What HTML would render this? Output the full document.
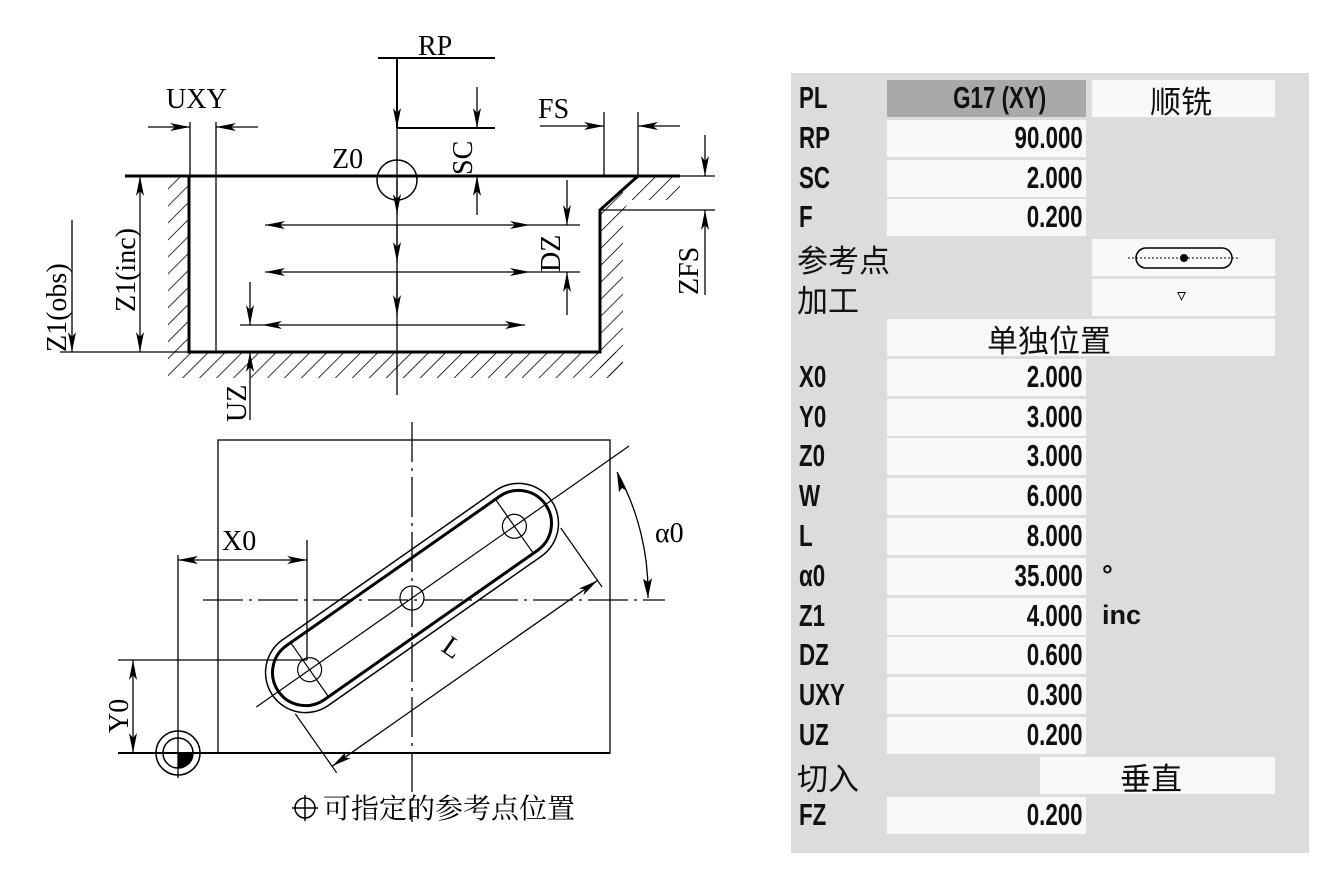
<!DOCTYPE html>
<html><head><meta charset="utf-8"><style>
body{margin:0;width:1341px;height:871px;background:#fff;overflow:hidden;position:relative}
svg{position:absolute;left:0;top:0}
#panel{position:absolute;left:791px;top:73px;width:518px;height:780px;background:#dcdcdc}
.r{position:absolute;left:0;width:518px;height:40px}
.lb{position:absolute;left:8px;top:0px;font:bold 31px "Liberation Sans",sans-serif;transform:scaleX(0.72);transform-origin:left;color:#111}
.cj{position:absolute;left:6px;top:-3px;font:31px "Liberation Sans","Noto Sans CJK SC",sans-serif;color:#111}
.v{position:absolute;left:96px;top:0;width:199px;height:37px;background:#f8f8f8}
.vt{position:absolute;right:3px;top:0px;font:bold 31px "Liberation Sans",sans-serif;transform:scaleX(0.72);transform-origin:right;color:#111;white-space:nowrap}
.w{position:absolute;background:#f8f8f8;height:37px}
.u{position:absolute;left:311px;top:2px;font:bold 27px "Liberation Sans",sans-serif;color:#111}
</style></head><body>
<svg width="1341" height="871" viewBox="0 0 1341 871" id="dg">
<defs>
<pattern id="h" width="12" height="12" patternUnits="userSpaceOnUse" patternTransform="rotate(45)"><line x1="0" y1="0" x2="0" y2="12" stroke="#000" stroke-width="1.6"/></pattern>
</defs>
<g fill="none" stroke="#000">
<rect x="168" y="176" width="21" height="176" fill="url(#h)" stroke="none"/>
<rect x="168" y="352" width="455" height="26" fill="url(#h)" stroke="none"/>
<rect x="600" y="176" width="23" height="200" fill="url(#h)" stroke="none"/>
<polygon points="638,176 680,176 680,200 623,200 623,214" fill="url(#h)" stroke="none"/>
<rect x="190" y="177" width="409" height="174" fill="#fff" stroke="none"/>
<polygon points="599,210 638,177 599,177" fill="#fff" stroke="none"/>
<path d="M125,176 H680" stroke-width="3"/>
<path d="M189,176 V352 H600 V210 L638,176" stroke-width="3"/>
<line x1="216" y1="122" x2="216" y2="352" stroke-width="1.3"/>
<line x1="190" y1="122" x2="190" y2="176" stroke-width="1.3"/>
<line class="e" x1="148" y1="127" x2="190" y2="127" stroke-width="1.3"/>
<line class="e" x1="258" y1="127" x2="216" y2="127" stroke-width="1.3"/>
<line x1="378" y1="58" x2="495" y2="58" stroke-width="2"/>
<line class="e" x1="397" y1="58" x2="397" y2="128" stroke-width="2"/>
<line x1="397" y1="128" x2="495" y2="128" stroke-width="2"/>
<line x1="397" y1="128" x2="397" y2="395" stroke-width="1.3"/>
<circle cx="397" cy="180" r="20" stroke-width="1.5"/>
<line class="e" x1="397" y1="180" x2="397" y2="214" stroke-width="1.3"/>
<line class="e" x1="397" y1="225" x2="397" y2="262" stroke-width="1.3"/>
<line class="e" x1="397" y1="272" x2="397" y2="315" stroke-width="1.3"/>
<line class="e" x1="477" y1="87" x2="477" y2="128" stroke-width="1.3"/>
<line class="e" x1="477" y1="215" x2="477" y2="176" stroke-width="1.3"/>
<line class="b" x1="265" y1="225" x2="530" y2="225" stroke-width="1.3"/>
<line x1="530" y1="225" x2="580" y2="225" stroke-width="1.3"/>
<line class="b" x1="265" y1="272" x2="530" y2="272" stroke-width="1.3"/>
<line x1="530" y1="272" x2="580" y2="272" stroke-width="1.3"/>
<line x1="240" y1="325" x2="262" y2="325" stroke-width="1.3"/>
<line class="b" x1="262" y1="325" x2="525" y2="325" stroke-width="1.3"/>
<line class="e" x1="567" y1="180" x2="567" y2="225" stroke-width="1.3"/>
<line class="e" x1="567" y1="315" x2="567" y2="272" stroke-width="1.3"/>
<line x1="604" y1="112" x2="604" y2="176" stroke-width="1.3"/>
<line x1="638" y1="112" x2="638" y2="176" stroke-width="1.3"/>
<line class="e" x1="540" y1="126" x2="604" y2="126" stroke-width="1.3"/>
<line class="e" x1="680" y1="126" x2="638" y2="126" stroke-width="1.3"/>
<line x1="680" y1="176" x2="715" y2="176" stroke-width="1.3"/>
<line x1="600" y1="210" x2="715" y2="210" stroke-width="1.3"/>
<line class="e" x1="705" y1="135" x2="705" y2="176" stroke-width="1.3"/>
<line class="e" x1="705" y1="295" x2="705" y2="210" stroke-width="1.3"/>
<line class="e" x1="250" y1="282" x2="250" y2="325" stroke-width="1.3"/>
<line class="e" x1="250" y1="420" x2="250" y2="352" stroke-width="1.3"/>
<line x1="60" y1="352" x2="189" y2="352" stroke-width="1.3"/>
<line class="b" x1="140" y1="176" x2="140" y2="352" stroke-width="1.3"/>
<line class="e" x1="72" y1="220" x2="72" y2="352" stroke-width="1.3"/>

<rect x="218" y="440" width="392" height="313" stroke-width="1.3"/>
<line x1="118" y1="753" x2="610" y2="753" stroke-width="2"/>
<line x1="412" y1="422" x2="412" y2="822" stroke-width="1.3" stroke-dasharray="40,6,3,6"/>
<line x1="203" y1="600" x2="665" y2="600" stroke-width="1.3" stroke-dasharray="40,6,3,6"/>
<g transform="translate(412,598) rotate(-35)">
<rect x="-170" y="-40" width="340" height="80" rx="40" stroke-width="1.5"/>
<rect x="-163" y="-33" width="326" height="66" rx="33" stroke-width="3"/>
<line x1="-190" y1="0" x2="265" y2="0" stroke-width="1.2"/>
<line x1="-125" y1="-33" x2="-125" y2="33" stroke-width="1.2"/>
<line x1="125" y1="-33" x2="125" y2="33" stroke-width="1.2"/>
<line x1="-162" y1="28" x2="-162" y2="100" stroke-width="1.2"/>
<line x1="162" y1="28" x2="162" y2="100" stroke-width="1.2"/>
<line class="b" x1="-162" y1="92" x2="162" y2="92" stroke-width="1.3"/>
<circle cx="-125" cy="0" r="12" stroke-width="1.2"/>
<circle cx="0" cy="0" r="12" stroke-width="1.2"/>
<circle cx="125" cy="0" r="12" stroke-width="1.2"/>
</g>
<line x1="307" y1="540" x2="307" y2="660" stroke-width="1.3"/>
<line x1="178" y1="555" x2="178" y2="778" stroke-width="1.3"/>
<line class="b" x1="178" y1="560" x2="307" y2="560" stroke-width="1.3"/>
<line x1="118" y1="660" x2="307" y2="660" stroke-width="1.3"/>
<line class="b" x1="133" y1="660" x2="133" y2="753" stroke-width="1.3"/>
<path d="M617,472 A250,250 0 0 1 648,598" stroke-width="1.3"/>
<polygon points="617,472 619,492 622,488 627,491" fill="#000" stroke="none"/>
<polygon points="648,598 643,579 648,582 652,578" fill="#000" stroke="none"/>
<circle cx="178" cy="753" r="22" stroke-width="1.5"/>
<circle cx="178" cy="753" r="15" stroke-width="1.5"/>
<path d="M178,753 H193 A15,15 0 0 1 178,768Z" fill="#000"/>
<circle cx="305" cy="808" r="10" stroke-width="1.5"/>
<line x1="292" y1="808" x2="318" y2="808" stroke-width="1.5"/>
<line x1="305" y1="795" x2="305" y2="821" stroke-width="1.5"/>
</g>
<g font-family="Liberation Serif,serif" font-size="28" fill="#000">
<text x="418" y="55">RP</text>
<text x="166" y="108">UXY</text>
<text x="332" y="168">Z0</text>
<text x="538" y="118">FS</text>
<text transform="translate(472,175) rotate(-90)">SC</text>
<text transform="translate(560,272) rotate(-90)">DZ</text>
<text transform="translate(698,295) rotate(-90)">ZFS</text>
<text transform="translate(246,422) rotate(-90)">UZ</text>
<text transform="translate(135,312) rotate(-90)">Z1(inc)</text>
<text transform="translate(66,352) rotate(-90)">Z1(obs)</text>
<text x="222" y="550">X0</text>
<text x="655" y="542">α0</text>
<text transform="translate(128,733) rotate(-90)">Y0</text>
<text transform="translate(440,650) rotate(35)">L</text>
</g>
<text x="323" y="818" font-family="Liberation Serif,'Noto Serif CJK SC',serif" font-size="28" fill="#000">可指定的参考点位置</text>
</svg>
<div id="panel">
<div class="r" style="top:7px"><span class="lb">PL</span><div class="v" style="background:#a9a9a9"><span class="vt" style="right:40px">G17 (XY)</span></div><div class="w" style="left:301px;width:183px"><span class="cj" style="left:58px">顺铣</span></div></div>
<div class="r" style="top:47px"><span class="lb">RP</span><div class="v"><span class="vt">90.000</span></div></div>
<div class="r" style="top:87px"><span class="lb">SC</span><div class="v"><span class="vt">2.000</span></div></div>
<div class="r" style="top:126px"><span class="lb">F</span><div class="v"><span class="vt">0.200</span></div></div>
<div class="r" style="top:166px"><span class="cj">参考点</span><div class="w" style="left:301px;width:183px"><svg width="183" height="37" style="position:absolute"><rect x="44" y="9" width="96" height="20" rx="10" fill="none" stroke="#000" stroke-width="1.5"/><line x1="36" y1="19" x2="148" y2="19" stroke="#000" stroke-dasharray="2,2"/><circle cx="92" cy="19" r="4" fill="#000"/></svg></div></div>
<div class="r" style="top:206px"><span class="cj">加工</span><div class="w" style="left:301px;width:183px"><span style="position:absolute;left:85px;top:6px;font:18px 'DejaVu Sans',sans-serif">▿</span></div></div>
<div class="r" style="top:246px"><div class="w" style="left:96px;width:388px"><span class="cj" style="left:100px">单独位置</span></div></div>
<div class="r" style="top:286px"><span class="lb">X0</span><div class="v"><span class="vt">2.000</span></div></div>
<div class="r" style="top:326px"><span class="lb">Y0</span><div class="v"><span class="vt">3.000</span></div></div>
<div class="r" style="top:365px"><span class="lb">Z0</span><div class="v"><span class="vt">3.000</span></div></div>
<div class="r" style="top:405px"><span class="lb">W</span><div class="v"><span class="vt">6.000</span></div></div>
<div class="r" style="top:445px"><span class="lb">L</span><div class="v"><span class="vt">8.000</span></div></div>
<div class="r" style="top:485px"><span class="lb">α0</span><div class="v"><span class="vt">35.000</span></div><span class="u">°</span></div>
<div class="r" style="top:525px"><span class="lb">Z1</span><div class="v"><span class="vt">4.000</span></div><span class="u">inc</span></div>
<div class="r" style="top:564px"><span class="lb">DZ</span><div class="v"><span class="vt">0.600</span></div></div>
<div class="r" style="top:604px"><span class="lb">UXY</span><div class="v"><span class="vt">0.300</span></div></div>
<div class="r" style="top:644px"><span class="lb">UZ</span><div class="v"><span class="vt">0.200</span></div></div>
<div class="r" style="top:684px"><span class="cj">切入</span><div class="w" style="left:249px;width:235px"><span class="cj" style="left:80px">垂直</span></div></div>
<div class="r" style="top:724px"><span class="lb">FZ</span><div class="v"><span class="vt">0.200</span></div></div>
</div>
<script>
(function(){
var NS="http://www.w3.org/2000/svg";
function head(p,x,y,dx,dy){var L=Math.hypot(dx,dy);dx/=L;dy/=L;var nx=-dy,ny=dx;
var bx=x-dx*20,by=y-dy*20,mx=x-dx*15,my=y-dy*15;
var g=document.createElementNS(NS,"polygon");
g.setAttribute("points",x+","+y+" "+(bx+nx*4)+","+(by+ny*4)+" "+mx+","+my+" "+(bx-nx*4)+","+(by-ny*4));
g.setAttribute("fill","#000");g.setAttribute("stroke","none");p.appendChild(g);}
document.querySelectorAll("line.e,line.b").forEach(function(l){
var x1=+l.getAttribute("x1"),y1=+l.getAttribute("y1"),x2=+l.getAttribute("x2"),y2=+l.getAttribute("y2");
head(l.parentNode,x2,y2,x2-x1,y2-y1);
if(l.classList.contains("b"))head(l.parentNode,x1,y1,x1-x2,y1-y2);});
})();
</script>
</body></html>
